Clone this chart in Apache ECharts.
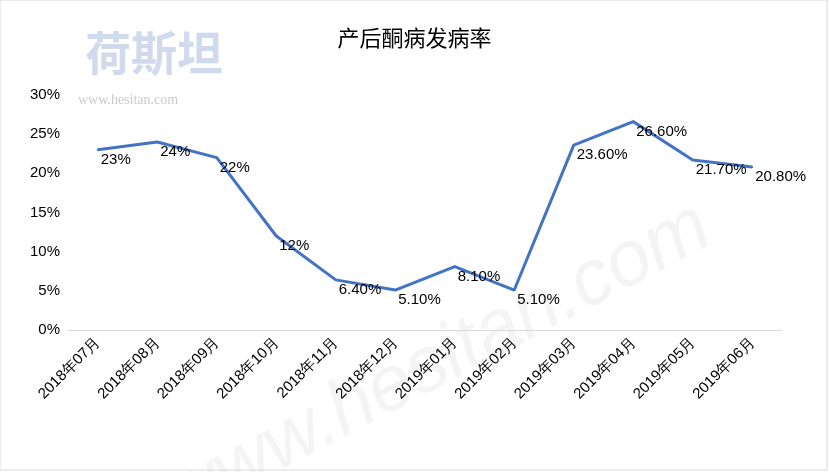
<!DOCTYPE html>
<html>
<head>
<meta charset="utf-8">
<script src="https://cdn.jsdelivr.net/npm/echarts@6/dist/echarts.min.js"></script>
<style>html,body{margin:0;padding:0;background:#fff}#main{width:829px;height:472px}</style>
</head>
<body>
<div id="main"></div>
<script>
var months = ['2018年07月','2018年08月','2018年09月','2018年10月','2018年11月','2018年12月','2019年01月','2019年02月','2019年03月','2019年04月','2019年05月','2019年06月'];
var rates = [23, 24, 22, 12, 6.4, 5.1, 8.1, 5.1, 23.6, 26.6, 21.7, 20.8];
var rateLabels = ['23%','24%','22%','12%','6.40%','5.10%','8.10%','5.10%','23.60%','26.60%','21.70%','20.80%'];
var yTicks = [0, 5, 10, 15, 20, 25, 30];

var chart = echarts.init(document.getElementById('main'));
var option = {
    backgroundColor: '#fff',
    title: {
        text: '产后酮病发病率',
        left: 'center',
        top: 22,
        textStyle: {fontSize: 22, fontWeight: 'normal', color: '#000', fontFamily: 'Noto Sans CJK SC'}
    },
    graphic: [
        {type: 'rect', shape: {x: 0, y: 0, width: 827, height: 470}, style: {fill: 'none', stroke: '#d9d9d9', lineWidth: 1}},
        {type: 'text', left: 85, top: 30, style: {text: '荷斯坦', fontSize: 46, fontWeight: 'bold', fill: 'rgba(120,150,200,0.35)', fontFamily: 'Noto Sans CJK SC'}},
        {type: 'text', left: 78, top: 93, style: {text: 'www.hesitan.com', fontSize: 14, fill: 'rgba(150,150,150,0.5)', fontFamily: 'Liberation Serif'}},
        {type: 'text', x: 150, y: 470, rotation: Math.PI / 6.5, style: {text: 'www.hesitan.com', fontSize: 78, fontStyle: 'italic', fill: 'rgba(210,210,210,0.25)', fontFamily: 'Liberation Sans'}}
    ],
    grid: {left: 68, right: 47, top: 95, bottom: 142},
    xAxis: {
        type: 'category',
        data: months,
        boundaryGap: true,
        axisLine: {lineStyle: {color: '#d9d9d9'}},
        axisTick: {show: false},
        axisLabel: {rotate: 45, interval: 0, color: '#000', fontSize: 15, fontFamily: 'Liberation Sans', margin: 10}
    },
    yAxis: {
        type: 'value',
        min: yTicks[0],
        max: yTicks[yTicks.length - 1],
        interval: 5,
        axisLine: {show: false},
        axisTick: {show: false},
        splitLine: {show: false},
        axisLabel: {formatter: '{value}%', color: '#000', fontSize: 15, fontFamily: 'Liberation Sans'}
    },
    series: [{
        type: 'line',
        data: rates,
        symbol: 'circle',
        symbolSize: 2,
        showSymbol: true,
        showAllSymbol: true,
        itemStyle: {color: '#4472c4'},
        lineStyle: {color: '#4472c4', width: 3},
        label: {
            show: true,
            position: 'right',
            distance: 2,
            offset: [0, 10],
            color: '#000',
            fontSize: 15,
            fontFamily: 'Liberation Sans',
            formatter: function (p) { return rateLabels[p.dataIndex]; }
        }
    }]
};
chart.setOption(option);
</script>
</body>
</html>
